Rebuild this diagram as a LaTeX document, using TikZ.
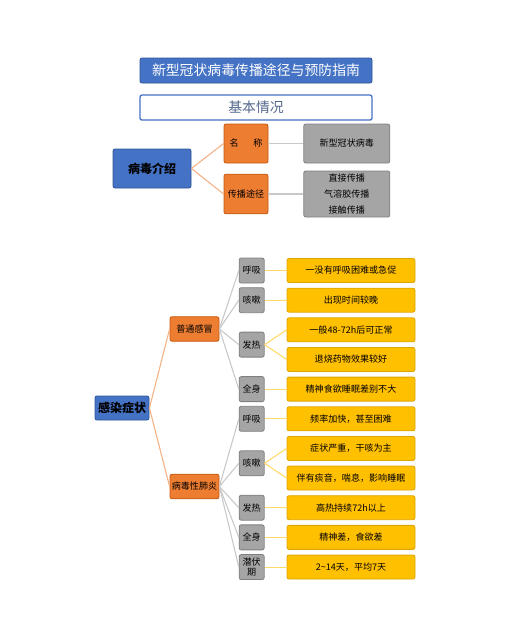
\documentclass[tikz,border=0pt]{standalone}
\usepackage{fontspec}
\setmainfont{Noto Sans CJK SC}
\usetikzlibrary{positioning, calc}
\definecolor{colBlue}   {RGB}{68,114,196}
\definecolor{colBlueD}  {RGB}{47,85,151}
\definecolor{colOrange} {RGB}{237,125,49}
\definecolor{colOrangeD}{RGB}{197,90,17}
\definecolor{colGray}   {RGB}{165,165,165}
\definecolor{colGrayD}  {RGB}{128,128,128}
\definecolor{colYellow} {RGB}{255,192,0}
\definecolor{colYellowD}{RGB}{220,165,0}
\definecolor{colLineO}  {RGB}{244,177,131}
\definecolor{colLineG}  {RGB}{200,200,200}
\definecolor{colLineY}  {RGB}{255,217,102}
\definecolor{colSub}    {RGB}{84,104,140}
\tikzset{
  base/.style  = {draw, rounded corners=1.5pt, align=center, inner sep=0pt,
                  line width=0.6pt, font=\fontsize{6.8}{8.5}\selectfont},
  zhead/.style = {base, fill=colBlue, draw=colBlueD, text=white,
                  font=\fontsize{10.4}{12}\selectfont,
                  minimum width=174pt, minimum height=18.75pt},
  zsub/.style  = {base, fill=white, draw=colBlue, line width=1pt, text=colSub,
                  font=\fontsize{10.4}{12}\selectfont,
                  minimum width=174pt, minimum height=18.75pt},
  zroot/.style = {base, fill=colBlue, draw=colBlueD,
                  font=\fontsize{9}{11}\selectfont\bfseries},
  zmid/.style  = {base, fill=colOrange, draw=colOrangeD},
  zleaf/.style = {base, fill=colGray, draw=colGrayD, minimum width=64.5pt},
  zsym/.style  = {base, fill=colGray, draw=colGrayD,
                  minimum width=18.75pt, minimum height=18.75pt},
  zitem/.style = {base, fill=colYellow, draw=colYellowD,
                  minimum width=96pt, minimum height=18pt},
  lo/.style    = {colLineO, line width=0.8pt},
  lg/.style    = {colLineG, line width=0.8pt},
  ly/.style    = {colLineY, line width=0.8pt},
}

\begin{document}
\begin{tikzpicture}[x=0.75pt, y=-0.75pt, node distance=3.64pt]
\useasboundingbox (0,0) rectangle (531,622);

%% ── heading ─────────────────────────────────────────────────────────────────
\node[zhead] (title) at (256,70.5) {新型冠状病毒传播途径与预防指南};
\node[zsub, below=8.25pt of title] (basic) {基本情况};

%% ── virus introduction ──────────────────────────────────────────────────────
\node[zroot, minimum width=58.5pt, minimum height=29.25pt] (virus) at (152,168.5) {病毒介绍};
\node[zmid, minimum width=33pt, minimum height=29.25pt] (vname)  at (246,143.5) {名\hspace{1.6em}称};
\node[zmid, minimum width=33pt, minimum height=29.75pt] (vroute) at (246,194) {传播途径};
\node[zleaf, minimum height=29.25pt, right=26.25pt of vname]  (vnamebox)  {新型冠状病毒};
\node[zleaf, minimum height=34.5pt, right=26.25pt of vroute,
      font=\fontsize{6.8}{12}\selectfont] (vroutebox)
  {直接传播\\气溶胶传播\\接触传播};

\draw[lo] (virus.east) -- (vname.west);
\draw[lo] (virus.east) -- (vroute.west);
\draw[lg] (vname.east)  -- (vnamebox.west);
\draw[lg] (vroute.east) -- (vroutebox.west);

%% ── symptoms: yellow items ──────────────────────────────────────────────────
\node[zitem] (y0) at (351,270.5) {一没有呼吸困难或急促};
\node[zitem, below=of y0]  (y1)  {出现时间较晚};
\node[zitem, below=of y1]  (y2)  {一般48-72h后可正常};
\node[zitem, below=of y2]  (y3)  {退烧药物效果较好};
\node[zitem, below=of y3]  (y4)  {精神食欲睡眠差别不大};
\node[zitem, below=of y4]  (y5)  {频率加快，甚至困难};
\node[zitem, below=of y5]  (y6)  {症状严重，干咳为主};
\node[zitem, below=of y6]  (y7)  {伴有痰音，喘息，影响睡眠};
\node[zitem, below=of y7]  (y8)  {高热持续72h以上};
\node[zitem, below=of y8]  (y9)  {精神差，食欲差};
\node[zitem, below=of y9]  (y10) {2\textasciitilde14天，平均7天};

%% ── symptoms: gray items ────────────────────────────────────────────────────
\coordinate (m1) at ($(y2.west)!0.5!(y3.west)$);
\coordinate (m2) at ($(y6.west)!0.5!(y7.west)$);
\node[zsym, left=16.5pt of y0]  (g1) {呼吸};
\node[zsym, left=16.5pt of y1]  (g2) {咳嗽};
\node[zsym, left=16.5pt of m1]  (g3) {发热};
\node[zsym, left=16.5pt of y4]  (g4) {全身};
\node[zsym, left=16.5pt of y5]  (g5) {呼吸};
\node[zsym, left=16.5pt of m2]  (g6) {咳嗽};
\node[zsym, left=16.5pt of y8]  (g7) {发热};
\node[zsym, left=16.5pt of y9]  (g8) {全身};
\node[zsym, left=16.5pt of y10, font=\fontsize{6.8}{7.6}\selectfont] (g9) {潜伏\\期};

%% ── symptoms: root and kinds ────────────────────────────────────────────────
\node[zroot, minimum width=40.5pt, minimum height=18pt] (sym) at (122,408) {感染症状};
\node[zmid, minimum width=36.75pt, minimum height=18.4pt] (cold) at (194.5,329) {普通感冒};
\node[zmid, minimum width=36.75pt, minimum height=18.4pt] (pneu) at (194.5,486.5) {病毒性肺炎};

%% ── connectors ──────────────────────────────────────────────────────────────
\draw[lo] (sym.east) -- (cold.west);
\draw[lo] (sym.east) -- (pneu.west);
\foreach \g in {g1,g2,g3,g4}
  \draw[lg] (cold.east) -- (\g.west);
\foreach \g in {g5,g6,g7,g8,g9}
  \draw[lg] (pneu.east) -- (\g.west);
\draw[ly] (g1.east) -- (y0.west);
\draw[ly] (g2.east) -- (y1.west);
\draw[ly] (g3.east) -- (y2.west);
\draw[ly] (g3.east) -- (y3.west);
\draw[ly] (g4.east) -- (y4.west);
\draw[ly] (g5.east) -- (y5.west);
\draw[ly] (g6.east) -- (y6.west);
\draw[ly] (g6.east) -- (y7.west);
\draw[ly] (g7.east) -- (y8.west);
\draw[ly] (g8.east) -- (y9.west);
\draw[ly] (g9.east) -- (y10.west);

\end{tikzpicture}
\end{document}
